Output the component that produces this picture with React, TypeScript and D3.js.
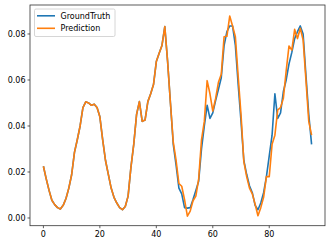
import React from "react";
import * as d3 from "d3";

const groundTruth: number[] = [
  0.0225, 0.017, 0.012, 0.0077, 0.0058, 0.0045, 0.0039, 0.0055, 0.0085, 0.013,
  0.0188, 0.0285, 0.034, 0.04, 0.048, 0.0505, 0.05, 0.049, 0.0495, 0.048,
  0.044, 0.034, 0.025, 0.019, 0.013, 0.009, 0.0065, 0.0045, 0.0036, 0.005,
  0.0095, 0.022, 0.032, 0.045, 0.0506, 0.042, 0.0426, 0.0506, 0.054, 0.058,
  0.068, 0.0716, 0.075, 0.0832, 0.068, 0.05, 0.032, 0.023, 0.013, 0.0105,
  0.0045, 0.0043, 0.0045, 0.008, 0.012, 0.016, 0.03, 0.04, 0.049, 0.0433,
  0.0457, 0.051, 0.056, 0.061, 0.075, 0.081, 0.0835, 0.0835, 0.075, 0.058,
  0.042, 0.025, 0.019, 0.014, 0.011, 0.0055, 0.0036, 0.0065, 0.011, 0.018,
  0.027, 0.036, 0.054, 0.0433, 0.0457, 0.055, 0.06, 0.067, 0.072, 0.078,
  0.081, 0.0835, 0.08, 0.062, 0.045, 0.032,
];

const prediction: number[] = [
  0.0225, 0.017, 0.012, 0.0077, 0.0058, 0.0045, 0.0039, 0.0055, 0.0085, 0.013,
  0.0188, 0.0285, 0.034, 0.04, 0.048, 0.0505, 0.05, 0.049, 0.0495, 0.048,
  0.044, 0.034, 0.025, 0.019, 0.013, 0.009, 0.0065, 0.0045, 0.0036, 0.005,
  0.0095, 0.022, 0.032, 0.045, 0.0506, 0.042, 0.0426, 0.0506, 0.054, 0.058,
  0.068, 0.0716, 0.075, 0.0832, 0.068, 0.05, 0.033, 0.025, 0.015, 0.0138,
  0.008, 0.0008, 0.003, 0.0075, 0.0095, 0.017, 0.034, 0.042, 0.0597, 0.054,
  0.0465, 0.052, 0.059, 0.0625, 0.0788, 0.079, 0.0878, 0.0835, 0.0788, 0.0615,
  0.045, 0.0245, 0.018, 0.013, 0.0105, 0.006, 0.001, 0.0045, 0.009, 0.018,
  0.018, 0.032, 0.036, 0.047, 0.048, 0.052, 0.064, 0.0748, 0.073, 0.082,
  0.078, 0.0825, 0.0774, 0.06, 0.042, 0.036,
];

const xTicks: number[] = [0, 20, 40, 60, 80];
const yTicks: number[] = [0, 0.02, 0.04, 0.06, 0.08];
const seriesNames: string[] = ["GroundTruth", "Prediction"];

const W = 332;
const H = 246;
const left = 30;
const right = 325;
const top = 5;
const bottom = 225.7;
const font = "DejaVu Sans, sans-serif";

export default function App() {
  const x = d3.scaleLinear().domain([-4.75, 99.75]).range([left, right]);
  const y = d3.scaleLinear().domain([-0.00335, 0.0926]).range([bottom, top]);
  const line = d3
    .line<number>()
    .x((_, i) => x(i))
    .y((d) => y(d));
  const colors = ["#1f77b4", "#ff7f0e"];
  const fmt = d3.format(".2f");

  return (
    <svg
      width={W}
      height={H}
      style={{ position: "absolute", left: 0, top: 0, background: "#fff" }}
      fontFamily={font}
    >
      <rect x={0} y={0} width={W} height={H} fill="#fff" />
      <path d={line(groundTruth) || ""} fill="none" stroke={colors[0]} strokeWidth={1.6} strokeLinejoin="round" />
      <path d={line(prediction) || ""} fill="none" stroke={colors[1]} strokeWidth={1.6} strokeLinejoin="round" />
      <rect x={left} y={top} width={right - left} height={bottom - top} fill="none" stroke="#333" strokeWidth={0.8} />
      {xTicks.map((t) => (
        <g key={"x" + t}>
          <line x1={x(t)} x2={x(t)} y1={bottom} y2={bottom + 2.5} stroke="#333" strokeWidth={0.8} />
          <text x={x(t)} y={bottom + 11.5} fontSize={8} textAnchor="middle" fill="#000">
            {t}
          </text>
        </g>
      ))}
      {yTicks.map((t) => (
        <g key={"y" + t}>
          <line x1={left - 2.5} x2={left} y1={y(t)} y2={y(t)} stroke="#333" strokeWidth={0.8} />
          <text x={left - 4.5} y={y(t) + 2.9} fontSize={8} textAnchor="end" fill="#000">
            {fmt(t)}
          </text>
        </g>
      ))}
      <g>
        <rect x={34.5} y={9} width={80.5} height={27.5} rx={1.5} fill="#fff" fillOpacity={0.8} stroke="#ccc" strokeWidth={0.8} />
        {seriesNames.map((n, i) => (
          <g key={n}>
            <line x1={37} x2={55} y1={15.8 + i * 12.5} y2={15.8 + i * 12.5} stroke={colors[i]} strokeWidth={1.6} />
            <text x={60.5} y={18.8 + i * 12.5} fontSize={8} fill="#000">
              {n}
            </text>
          </g>
        ))}
      </g>
    </svg>
  );
}
